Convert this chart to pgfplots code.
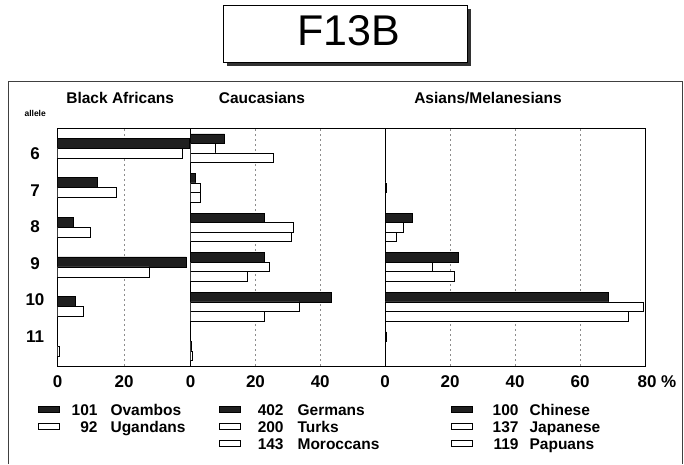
\documentclass[border=0pt]{standalone}
\usepackage{pgfplots}
\pgfplotsset{compat=1.18}
\usepackage{fontspec}
\setmainfont{Liberation Sans}
\pgfplotsset{
 panel/.style={
  scale only axis, height=237.7pt, ymin=-11.5, ymax=-5.5, xmin=0,
  axis line style={line width=0.9pt},
  major tick length=0pt, minor tick length=0pt,
  xmajorgrids, grid style={dash pattern=on 2pt off 3pt, black!45, line width=0.5pt},
  ytick=\empty,
  tick label style={font=\bfseries\fontsize{17}{17}\selectfont},
  xticklabel style={anchor=center, yshift=-15.7pt},
  /pgf/number format/assume math mode=true,
  title style={font=\bfseries\fontsize{15.5}{15.5}\selectfont, anchor=center},
  legend cell align=left,
  legend style={draw=none, fill=none, anchor=north west, inner sep=0pt, outer sep=0pt,
    row sep=1pt, column sep=0pt, font=\bfseries\fontsize{15.5}{15.5}\selectfont,
    nodes={inner sep=0pt, text height=12pt, text depth=4pt}},
 },
 darkbar/.style={xbar, fill=black!88, draw=black, line width=0.6pt,
   legend image code/.code={\draw[fill=black!88, draw=black, line width=0.6pt] (0pt,-1pt) rectangle (21pt,5pt);}},
 whitebar/.style={xbar, fill=white, draw=black, line width=0.6pt,
   legend image code/.code={\draw[fill=white, draw=black, line width=0.6pt] (0pt,-1pt) rectangle (21pt,5pt);}},
}
\begin{document}
\begin{tikzpicture}[x=1pt,y=1pt]
\path[use as bounding box] (0,0) rectangle (684,464);
\draw[line width=1pt, black!75] (8,0) -- (8,382) -- (682,382) -- (682,0);
\fill[black!80] (227,398) rectangle (471,455);
\draw[fill=white, line width=0.8pt] (223,402) rectangle (467,459);
\node[font=\fontsize{43}{43}\selectfont] at (349,433) {F13B};
\node[font=\bfseries\fontsize{8.5}{8.5}\selectfont] at (35.2,350.7) {allele};

% Black Africans
\begin{axis}[panel, at={(57.7pt,98pt)}, anchor=south west, width=133pt, xmax=40, xtick={0,20},
  ytick={-6.13,-7.08,-7.98,-8.91,-9.83,-10.76}, yticklabels={6,7,8,9,10,11},
  yticklabel style={anchor=center, xshift=-22.7pt},
  title={Black Africans}, title style={at={(axis description cs:0.47,1.102)}},
  legend style={at={(axis description cs:-0.146,-0.1586)}}]
\addplot[darkbar, bar width=10pt, bar shift=5pt] coordinates {(39.5,-6) (11.9,-7) (4.7,-8) (38.7,-9) (5.2,-10)};
\addlegendentry{\makebox[37.7pt][r]{101}\hspace{13pt}Ovambos}
\addplot[whitebar, bar width=10pt, bar shift=-5pt] coordinates {(37.5,-6) (17.6,-7) (9.9,-8) (27.4,-9) (7.7,-10) (0.5,-11)};
\addlegendentry{\makebox[37.7pt][r]{92}\hspace{13pt}Ugandans}
\end{axis}

% Caucasians
\begin{axis}[panel, at={(190.7pt,98pt)}, anchor=south west, width=194.3pt, xmax=60, xtick={0,20,40},
  title={Caucasians}, title style={at={(axis description cs:0.367,1.102)}},
  legend style={at={(axis description cs:0.1457,-0.1586)}}]
\addplot[darkbar, bar width=9.5pt, bar shift=9.5pt] coordinates {(10.5,-6) (1.4,-7) (22.6,-8) (22.6,-9) (43.3,-10)};
\addlegendentry{\makebox[43pt][r]{402}\hspace{14pt}Germans}
\addplot[whitebar, bar width=9.5pt, bar shift=0pt] coordinates {(7.6,-6) (3.1,-7) (31.6,-8) (24.2,-9) (33.4,-10) (0.3,-11)};
\addlegendentry{\makebox[43pt][r]{200}\hspace{14pt}Turks}
\addplot[whitebar, bar width=9.5pt, bar shift=-9.5pt] coordinates {(25.6,-6) (3.0,-7) (31.2,-8) (17.5,-9) (22.6,-10) (0.5,-11)};
\addlegendentry{\makebox[43pt][r]{143}\hspace{14pt}Moroccans}
\end{axis}

% Asians/Melanesians
\begin{axis}[panel, at={(385pt,98pt)}, anchor=south west, width=260pt, xmax=80, xtick={0,20,40,60},
  extra x ticks={80}, extra x tick labels={80 \%},
  extra x tick style={grid=none, xticklabel style={xshift=12pt}},
  title={Asians/Melanesians}, title style={at={(axis description cs:0.396,1.102)}},
  legend style={at={(axis description cs:0.2527,-0.1586)}}]
\addplot[darkbar, bar width=9.5pt, bar shift=9.5pt] coordinates {(8.3,-8) (22.6,-9) (68.8,-10) (0.5,-11)};
\addlegendentry{\makebox[46.3pt][r]{100}\hspace{11pt}Chinese}
\addplot[whitebar, bar width=9.5pt, bar shift=0pt] coordinates {(0.5,-7) (5.6,-8) (14.6,-9) (79.5,-10)};
\addlegendentry{\makebox[46.3pt][r]{137}\hspace{11pt}Japanese}
\addplot[whitebar, bar width=9.5pt, bar shift=-9.5pt] coordinates {(3.5,-8) (21.4,-9) (74.9,-10)};
\addlegendentry{\makebox[46.3pt][r]{119}\hspace{11pt}Papuans}
\end{axis}
\end{tikzpicture}
\end{document}
